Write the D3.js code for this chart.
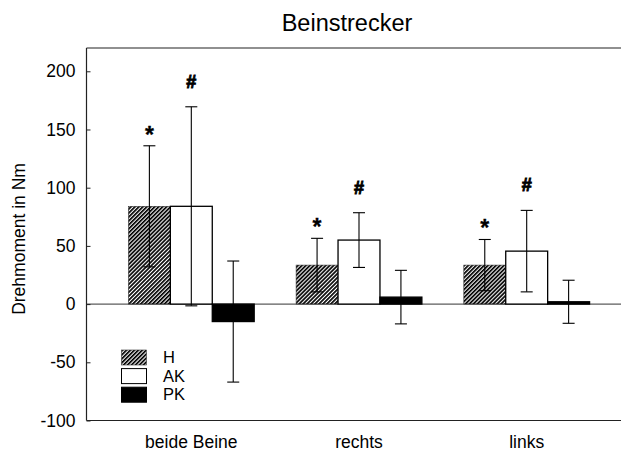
<!DOCTYPE html>
<html>
<head>
<meta charset="utf-8">
<script src="https://cdn.jsdelivr.net/npm/d3@7"></script>
<style>
  html, body { margin: 0; padding: 0; background: #fff; }
  svg { display: block; font-family: "Liberation Sans", Arial, sans-serif; }
</style>
</head>
<body>
<svg id="chart" width="621" height="451"></svg>
<script>
const categories = ["beide Beine", "rechts", "links"];
const series = ["H", "AK", "PK"];
const meanH  = [84, 33.5, 33.5];
const meanAK = [84, 55, 45.5];
const meanPK = [-15, 6, 2];
const sdH  = [52, 23, 22];
const sdAK = [85.5, 23.5, 35];
const sdPK = [52, 23, 18.5];
const markH  = ["*", "*", "*"];
const markAK = ["#", "#", "#"];
const yTicks = [-100, -50, 0, 50, 100, 150, 200];
const title = "Beinstrecker";
const yLabel = "Drehmoment in Nm";

(function () {
const means = { H: meanH, AK: meanAK, PK: meanPK };
const sds = { H: sdH, AK: sdAK, PK: sdPK };
const marks = { H: markH, AK: markAK, PK: [null, null, null] };

const svg = d3.select("#chart");
const pLeft = 86.5, pRight = 631.5, pTop = 48, pBottom = 420.5;

const defs = svg.append("defs");
defs.append("pattern")
  .attr("id", "hatch")
  .attr("patternUnits", "userSpaceOnUse")
  .attr("width", 2.8).attr("height", 2.8)
  .attr("patternTransform", "rotate(45)")
  .append("rect")
  .attr("x", 0).attr("y", 0).attr("width", 1.7).attr("height", 2.8)
  .attr("fill", "#000");

const y = d3.scaleLinear().domain([-100, 220]).range([pBottom, pTop]);
const x0 = d3.scaleBand().domain(categories).range([pLeft, pRight]).paddingInner(0.25).paddingOuter(0.25);
const x1 = d3.scaleBand().domain(series).range([0, x0.bandwidth()]).padding(0);

const fillOf = s => s === "H" ? "url(#hatch)" : (s === "AK" ? "#fff" : "#000");

// frame lines
svg.append("line").attr("x1", pLeft).attr("x2", 621).attr("y1", pTop).attr("y2", pTop)
  .attr("stroke", "#222").attr("stroke-width", 1.2);
svg.append("line").attr("x1", pLeft).attr("x2", 621).attr("y1", pBottom).attr("y2", pBottom)
  .attr("stroke", "#222").attr("stroke-width", 1.2);
svg.append("line").attr("x1", pLeft).attr("x2", pLeft).attr("y1", pTop).attr("y2", pBottom)
  .attr("stroke", "#222").attr("stroke-width", 1.2);

// zero line
svg.append("line").attr("x1", pLeft).attr("x2", 621).attr("y1", y(0)).attr("y2", y(0))
  .attr("stroke", "#333").attr("stroke-width", 1);

// y ticks (inward) and labels
const yAxis = d3.axisLeft(y).tickValues(yTicks).tickSize(-4).tickPadding(11).tickFormat(d => String(d));
const gy = svg.append("g").attr("transform", `translate(${pLeft},0)`).call(yAxis);
gy.attr("font-size", null).attr("font-family", null);
gy.select(".domain").remove();
gy.selectAll(".tick line").attr("stroke", "#222");
gy.selectAll(".tick text").attr("font-size", 17.5).attr("fill", "#000");

// bars
const rows = [];
categories.forEach((c, i) => series.forEach(s => rows.push({ c, s, v: means[s][i], sd: sds[s][i], m: marks[s][i] })));

const g = svg.append("g");
g.selectAll("rect.bar").data(rows).join("rect")
  .attr("class", "bar")
  .attr("x", d => x0(d.c) + x1(d.s))
  .attr("width", x1.bandwidth())
  .attr("y", d => y(Math.max(0, d.v)))
  .attr("height", d => Math.abs(y(d.v) - y(0)))
  .attr("fill", d => fillOf(d.s))
  .attr("stroke", d => d.s === "H" ? "#333" : "#000")
  .attr("stroke-width", d => d.s === "H" ? 0.6 : 1.3);

// error bars
const cx = d => x0(d.c) + x1(d.s) + x1.bandwidth() / 2;
const eb = g.selectAll("g.err").data(rows).join("g").attr("class", "err")
  .attr("stroke", "#000").attr("stroke-width", 1.1);
eb.append("line").attr("x1", cx).attr("x2", cx)
  .attr("y1", d => y(d.v + d.sd)).attr("y2", d => y(d.v - d.sd));
eb.append("line").attr("x1", d => cx(d) - 6).attr("x2", d => cx(d) + 6)
  .attr("y1", d => y(d.v + d.sd)).attr("y2", d => y(d.v + d.sd));
eb.append("line").attr("x1", d => cx(d) - 6).attr("x2", d => cx(d) + 6)
  .attr("y1", d => y(d.v - d.sd)).attr("y2", d => y(d.v - d.sd));

// significance marks
g.selectAll("text.mark").data(rows.filter(d => d.m)).join("text")
  .attr("class", "mark")
  .attr("x", cx)
  .attr("y", d => y(d.v + d.sd) - (d.m === "*" ? 3 : 19))
  .attr("text-anchor", "middle")
  .attr("font-weight", "bold")
  .attr("font-size", d => d.m === "*" ? 23 : 18)
  .attr("stroke", "#000")
  .attr("stroke-width", d => d.m === "*" ? 0.3 : 0.9)
  .text(d => d.m);

// x labels
svg.selectAll("text.xl").data(categories).join("text")
  .attr("class", "xl")
  .attr("x", d => x0(d) + x0.bandwidth() / 2)
  .attr("y", 447.5)
  .attr("text-anchor", "middle")
  .attr("font-size", 17.5)
  .text(d => d);

// title
svg.append("text").attr("x", 347).attr("y", 30.5).attr("text-anchor", "middle")
  .attr("font-size", 23.5).text(title);

// y label
svg.append("text").attr("transform", "translate(25,239) rotate(-90)")
  .attr("text-anchor", "middle").attr("font-size", 17.5).text(yLabel);

// legend
const lg = svg.append("g").attr("transform", "translate(121.5,350)");
const li = lg.selectAll("g").data(series).join("g").attr("transform", (d, i) => `translate(0,${i * 18.6})`);
li.append("rect").attr("width", 25).attr("height", 15)
  .attr("fill", d => fillOf(d))
  .attr("stroke", d => d === "H" ? "#333" : "#000")
  .attr("stroke-width", d => d === "H" ? 0.6 : 1);
li.append("text").attr("x", 41.5).attr("y", 13).attr("font-size", 16.5).text(d => d);
})();
</script>
</body>
</html>
